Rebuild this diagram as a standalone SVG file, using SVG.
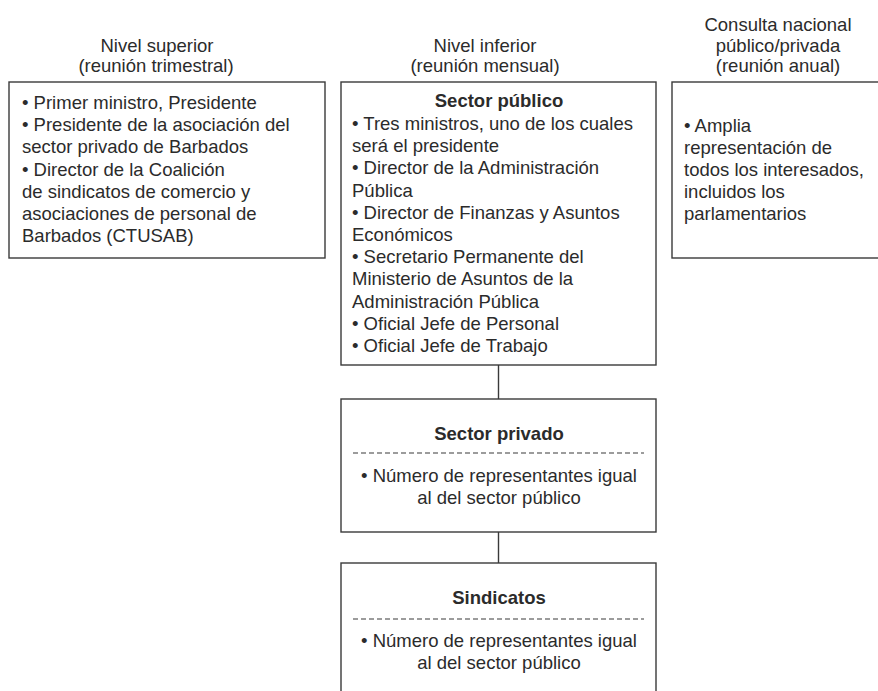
<svg xmlns="http://www.w3.org/2000/svg" width="878" height="691" viewBox="0 0 878 691">
<style>
text{font-family:"Liberation Sans",Arial,sans-serif;font-size:18.5px;fill:#2b2b2b}
.c{text-anchor:middle}
.b{font-weight:bold}
.box{fill:#fff;stroke:#3a3a3a;stroke-width:1.4}
.dash{stroke:#3a3a3a;stroke-width:1.2;stroke-dasharray:5 3}
.con{stroke:#3a3a3a;stroke-width:1.4;fill:none}
</style>
<rect width="878" height="691" fill="#fff"/>
<g id="headers">
<text class="c" x="157" y="52">Nivel superior</text>
<text class="c" x="156" y="72">(reunión trimestral)</text>
<text class="c" x="485" y="52">Nivel inferior</text>
<text class="c" x="485" y="72">(reunión mensual)</text>
<text class="c" x="778" y="31">Consulta nacional</text>
<text class="c" x="778" y="51.5">público/privada</text>
<text class="c" x="778" y="72">(reunión anual)</text>
</g>
<g id="connectors">
<line class="con" x1="498.5" y1="365" x2="498.5" y2="399"/>
<line class="con" x1="498.5" y1="532" x2="498.5" y2="563"/>
</g>
<g id="nivel-superior">
<rect class="box" x="9" y="82" width="316" height="176"/>
<text x="22" y="109">• Primer ministro, Presidente</text>
<text x="22" y="131.2">• Presidente de la asociación del</text>
<text x="22" y="153.4">sector privado de Barbados</text>
<text x="22" y="175.6">• Director de la Coalición</text>
<text x="22" y="197.8">de sindicatos de comercio y</text>
<text x="22" y="220">asociaciones de personal de</text>
<text x="22" y="242.2">Barbados (CTUSAB)</text>
</g>
<g id="sector-publico">
<rect class="box" x="341" y="82" width="315" height="283"/>
<text class="c b" x="499" y="107">Sector público</text>
<text x="352" y="130">• Tres ministros, uno de los cuales</text>
<text x="352" y="152.2">será el presidente</text>
<text x="352" y="174.4">• Director de la Administración</text>
<text x="352" y="196.6">Pública</text>
<text x="352" y="218.8">• Director de Finanzas y Asuntos</text>
<text x="352" y="241">Económicos</text>
<text x="352" y="263.2">• Secretario Permanente del</text>
<text x="352" y="285.4">Ministerio de Asuntos de la</text>
<text x="352" y="307.6">Administración Pública</text>
<text x="352" y="329.8">• Oficial Jefe de Personal</text>
<text x="352" y="352">• Oficial Jefe de Trabajo</text>
</g>
<g id="consulta-nacional">
<rect class="box" x="672" y="82" width="320" height="176"/>
<text x="684" y="132">• Amplia</text>
<text x="684" y="154">representación de</text>
<text x="684" y="176">todos los interesados,</text>
<text x="684" y="198">incluidos los</text>
<text x="684" y="220">parlamentarios</text>
</g>
<g id="sector-privado">
<rect class="box" x="341" y="399" width="315" height="133"/>
<text class="c b" x="499" y="440">Sector privado</text>
<line class="dash" x1="353" y1="453" x2="644" y2="453"/>
<text class="c" x="499" y="482">• Número de representantes igual</text>
<text class="c" x="499" y="504">al del sector público</text>
</g>
<g id="sindicatos">
<rect class="box" x="341" y="563" width="315" height="140"/>
<text class="c b" x="499" y="604">Sindicatos</text>
<line class="dash" x1="353" y1="619" x2="644" y2="619"/>
<text class="c" x="499" y="647">• Número de representantes igual</text>
<text class="c" x="499" y="669">al del sector público</text>
</g>
</svg>
